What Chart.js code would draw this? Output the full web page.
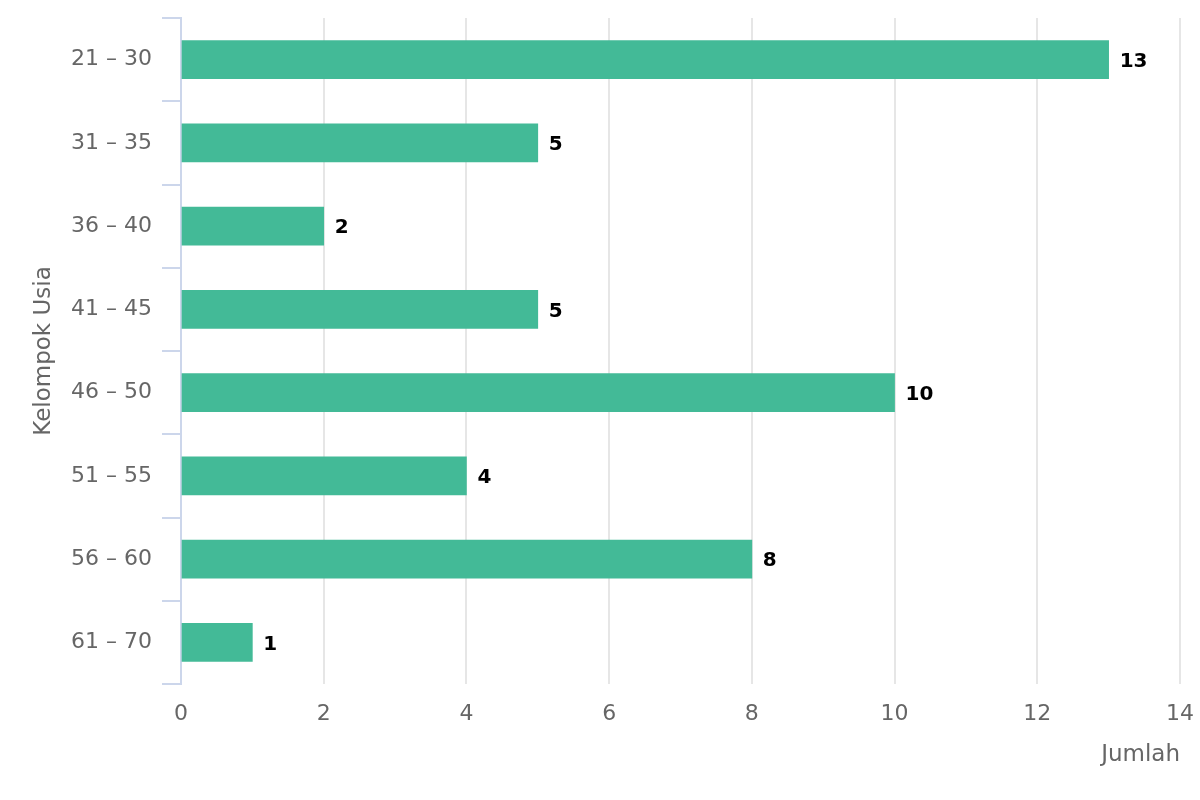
<!DOCTYPE html>
<html>
<head>
<meta charset="utf-8">
<script src="https://cdn.jsdelivr.net/npm/chart.js@4"></script>
<style>
  html, body { margin: 0; padding: 0; background: #fff; }
  #wrap { width: 1200px; height: 800px; }
</style>
</head>
<body>
<div id="wrap"><canvas id="barChart" width="1200" height="800"></canvas></div>
<script>
// data
const kelompokUsia = ['21 – 30', '31 – 35', '36 – 40', '41 – 45', '46 – 50', '51 – 55', '56 – 60', '61 – 70'];
const jumlah = [13, 5, 2, 5, 10, 4, 8, 1];
const xTicks = [0, 2, 4, 6, 8, 10, 12, 14];

const FONT = "'DejaVu Sans', Verdana, sans-serif";

// label angka di ujung batang
const valueLabels = {
  id: 'valueLabels',
  afterDatasetsDraw(chart) {
    const ctx = chart.ctx;
    const meta = chart.getDatasetMeta(0);
    ctx.save();
    ctx.font = 'bold 20px ' + FONT;
    ctx.fillStyle = '#000000';
    ctx.textAlign = 'left';
    ctx.textBaseline = 'middle';
    meta.data.forEach((bar, i) => {
      ctx.fillText(String(jumlah[i]), bar.x + 11, bar.y + 2);
    });
    ctx.restore();
  }
};

new Chart(document.getElementById('barChart'), {
  type: 'bar',
  data: {
    labels: kelompokUsia,
    datasets: [{
      data: jumlah,
      backgroundColor: '#43ba97',
      borderWidth: 0,
      barThickness: 38
    }]
  },
  options: {
    indexAxis: 'y',
    responsive: false,
    animation: false,
    layout: { padding: { top: 18, right: 20, left: 30, bottom: 0 } },
    plugins: {
      legend: { display: false },
      tooltip: { enabled: false }
    },
    scales: {
      y: {
        grid: {
          drawOnChartArea: false,
          drawTicks: true,
          tickLength: 19,
          lineWidth: 2,
          color: '#ccd6eb'
        },
        border: { display: true, color: '#ccd6eb', width: 2 },
        ticks: {
          color: '#666666',
          padding: 10,
          font: { family: FONT, size: 22 }
        },
        title: {
          display: true,
          text: 'Kelompok Usia',
          color: '#666666',
          padding: 0,
          font: { family: FONT, size: 23 }
        },
        afterFit(scale) {
          scale.width = 151;
          scale.paddingTop = 0;
          scale.paddingBottom = 0;
        }
      },
      x: {
        min: 0,
        max: 14,
        afterBuildTicks(scale) { scale.ticks = xTicks.map(v => ({ value: v })); },
        grid: { color: '#e6e6e6', lineWidth: 2, drawTicks: false },
        border: { display: false },
        ticks: {
          color: '#666666',
          padding: 17,
          font: { family: FONT, size: 22 }
        },
        title: {
          display: true,
          text: 'Jumlah',
          align: 'end',
          color: '#666666',
          padding: { top: 0, bottom: 31 },
          font: { family: FONT, size: 23 }
        },
        afterFit(scale) {
          scale.height = 116;
          scale.paddingLeft = 0;
          scale.paddingRight = 0;
        }
      }
    }
  },
  plugins: [valueLabels]
});
</script>
</body>
</html>
